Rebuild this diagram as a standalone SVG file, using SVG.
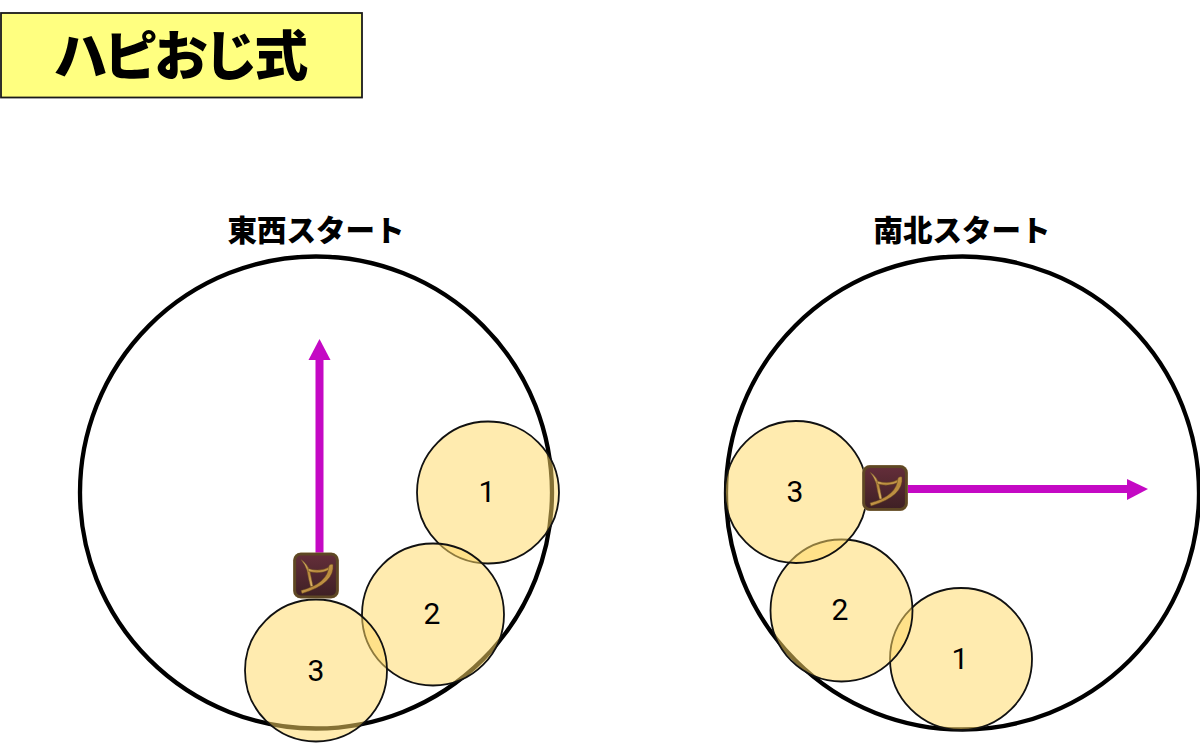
<svg xmlns="http://www.w3.org/2000/svg" width="1200" height="743" viewBox="0 0 1200 743">
<defs>
<style>
text{font-family:"Noto Sans CJK JP","Liberation Sans",sans-serif;fill:#000;text-anchor:middle}
.big{fill:none;stroke:#000;stroke-width:4.300}
.spot{fill:#FFD966;fill-opacity:.52;stroke:#111;stroke-width:1.800}
.num{font-size:30px;font-weight:400;font-family:Roboto,"Noto Sans CJK JP",sans-serif}
.sub{font-size:29.500px;font-weight:900}
.ttl{font-size:54px;font-weight:900;letter-spacing:-3.800px}
.shaft{stroke:#C409C4;stroke-width:8;fill:none}
.head{fill:#C409C4}
.bow{fill:url(#gold);stroke:#6B4A1C;stroke-width:.5;stroke-linejoin:round}
</style>
<linearGradient id="bg" x1="0" y1="0" x2="0" y2="1"><stop offset="0" stop-color="#642E3A"/><stop offset="1" stop-color="#3E2024"/></linearGradient>
<linearGradient id="gold" x1="0" y1="0" x2="1" y2="1"><stop offset="0" stop-color="#E8C47A"/><stop offset=".6" stop-color="#B98A3C"/><stop offset="1" stop-color="#E6BE72"/></linearGradient>
<g id="bowicon">
<rect x="-23" y="-23" width="46" height="46" rx="8" fill="#B7A27A"/>
<rect x="-21.300" y="-21.300" width="42.600" height="42.600" rx="6" fill="url(#bg)" stroke="#5E4724" stroke-width="2.800"/>
<path class="bow" d="M-15-16Q-8-11-6-4L-3 11L-5.500 11Q-8 2-9-5Q-11-11-15-16Z"/>
<path class="bow" d="M-8-7Q4-3 14-9L14-6Q4-1-7.500-4Z"/>
<path class="bow" d="M13-10Q15-12 17-11Q19 8-14 18L-15 15Q12 8 13-10Z"/>
</g>
</defs>
<g id="title">
<rect x="1" y="13" width="361" height="84.500" fill="#FFFF80" stroke="#1a1a1a" stroke-width="1.800"/>
<text class="ttl" x="179" y="76">ハピおじ式</text>
</g>
<g id="east-west">
<text class="sub" x="316" y="241">東西スタート</text>
<circle class="big" cx="316" cy="492.500" r="236"/>
</g>
<g id="north-south">
<text class="sub" x="962" y="241">南北スタート</text>
<circle class="big" cx="962.500" cy="493" r="236.500"/>
</g>
<g id="connectors">
<line class="shaft" x1="319.500" y1="553" x2="319.500" y2="356"/>
<polygon class="head" points="319.500,339 330.500,360 308.500,360"/>
<line class="shaft" x1="905" y1="489" x2="1129" y2="489"/>
<polygon class="head" points="1148,489 1127,479 1127,500"/>
</g>
<g id="ew-1"><circle class="spot" cx="488" cy="492.500" r="71"/><text class="num" x="487" y="502">1</text></g>
<g id="ew-2"><circle class="spot" cx="433" cy="614.500" r="71"/><text class="num" x="432" y="624">2</text></g>
<g id="ew-3"><circle class="spot" cx="316" cy="670.500" r="71"/><text class="num" x="316" y="681">3</text></g>
<g id="ns-1"><circle class="spot" cx="961" cy="659" r="71"/><text class="num" x="960" y="669">1</text></g>
<g id="ns-2"><circle class="spot" cx="841.500" cy="610.500" r="71"/><text class="num" x="840" y="620">2</text></g>
<g id="ns-3"><circle class="spot" cx="796" cy="492" r="71"/><text class="num" x="795" y="502">3</text></g>
<g id="icon-ew"><use href="#bowicon" x="316" y="575.500"/></g>
<g id="icon-ns"><use href="#bowicon" x="885" y="488"/></g>
</svg>
